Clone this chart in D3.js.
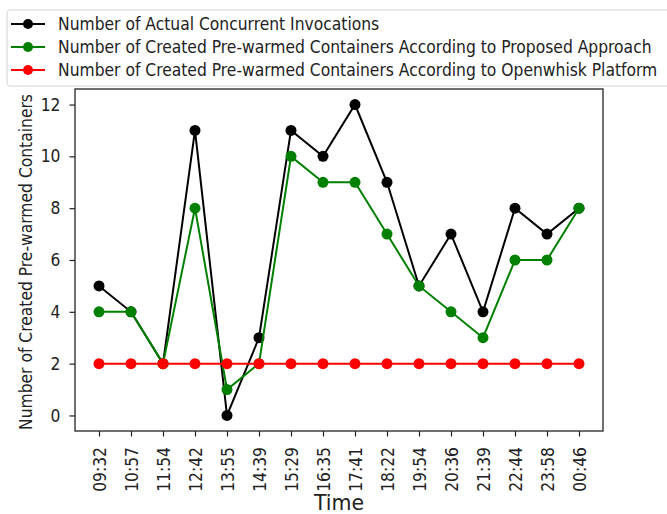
<!DOCTYPE html>
<html><head><meta charset="utf-8">
<script src="https://cdn.jsdelivr.net/npm/d3@7"></script>
<style>body{margin:0;background:#fff}svg{display:block}</style>
</head><body>
<script>
const times = ["09:32","10:57","11:54","12:42","13:55","14:39","15:29","16:35","17:41","18:22","19:54","20:36","21:39","22:44","23:58","00:46"];
const actual = [5,4,2,11,0,3,11,10,12,9,5,7,4,8,7,8];
const proposed = [4,4,2,8,1,2,10,9,9,7,5,4,3,6,6,8];
const openwhisk = [2,2,2,2,2,2,2,2,2,2,2,2,2,2,2,2];
const seriesNames = ["Number of Actual Concurrent Invocations","Number of Created Pre-warmed Containers According to Proposed Approach","Number of Created Pre-warmed Containers According to Openwhisk Platform"];
const seriesColors = ["#000000","#008000","#ff0000"];
const yTicks = [0,2,4,6,8,10,12];

const W=667,H=514;
const m={left:75,right:64,top:89,bottom:83};
const FONT="'DejaVu Sans Condensed', 'DejaVu Sans', sans-serif";
const FS="17.3px";
const svg=d3.select("body").append("svg").attr("width",W).attr("height",H)
  .style("font-family",FONT);
const x=d3.scaleLinear().domain([-0.75,times.length-1+0.75]).range([m.left,W-m.right]);
const y=d3.scaleLinear().domain([-0.6,12.6]).range([H-m.bottom,m.top]);

const xAxis=d3.axisBottom(x).tickValues(d3.range(times.length)).tickFormat(i=>times[i]).tickSize(5.5);
const gx=svg.append("g").attr("transform",`translate(0,${H-m.bottom})`).call(xAxis);
gx.select(".domain").remove();
gx.selectAll("text").attr("transform","rotate(-90)").attr("text-anchor","end")
  .attr("x",-16).attr("y",0).attr("dy","0.36em").style("font-size",FS).style("font-family",FONT).attr("fill","#222");
const yAxis=d3.axisLeft(y).tickValues(yTicks).tickSize(5.5).tickPadding(9);
const gy=svg.append("g").attr("transform",`translate(${m.left},0)`).call(yAxis);
gy.select(".domain").remove();
gy.selectAll("text").style("font-size",FS).style("font-family",FONT).attr("fill","#222");
svg.selectAll(".tick line").attr("stroke","#222").attr("stroke-width",1.2);

svg.append("rect").attr("x",m.left).attr("y",m.top).attr("width",W-m.right-m.left).attr("height",H-m.bottom-m.top)
  .attr("fill","none").attr("stroke","#222").attr("stroke-width",1.3);

const data=[actual,proposed,openwhisk];
const line=d3.line().x((d,i)=>x(i)).y(d=>y(d));
data.forEach((s,k)=>{
  const g=svg.append("g");
  g.append("path").datum(s).attr("d",line).attr("fill","none").attr("stroke",seriesColors[k]).attr("stroke-width",2);
  g.selectAll("circle").data(s).join("circle").attr("cx",(d,i)=>x(i)).attr("cy",d=>y(d)).attr("r",5.5).attr("fill",seriesColors[k]);
});

svg.append("text").attr("transform",`translate(32,${(m.top+H-m.bottom)/2+2}) rotate(-90)`).attr("text-anchor","middle")
  .style("font-size",FS).attr("fill","#222").text("Number of Created Pre-warmed Containers");
svg.append("text").attr("x",(m.left+W-m.right)/2).attr("y",510).attr("text-anchor","middle")
  .style("font-family","'DejaVu Sans', sans-serif").style("font-size","20.5px").attr("fill","#222").text("Time");

const lg=svg.append("g");
lg.append("rect").attr("x",7).attr("y",10).attr("width",680).attr("height",76).attr("rx",3)
  .attr("fill","#fff").attr("fill-opacity",0.8).attr("stroke","#d4d4d4");
const rowsY=[24,47,70];
seriesNames.forEach((n,k)=>{
  lg.append("line").attr("x1",11).attr("x2",45).attr("y1",rowsY[k]).attr("y2",rowsY[k]).attr("stroke",seriesColors[k]).attr("stroke-width",2);
  lg.append("circle").attr("cx",28).attr("cy",rowsY[k]).attr("r",5).attr("fill",seriesColors[k]);
  lg.append("text").attr("x",58).attr("y",rowsY[k]).attr("dy","0.36em").style("font-size",FS).attr("fill","#222").text(n);
});
</script>
</body></html>
